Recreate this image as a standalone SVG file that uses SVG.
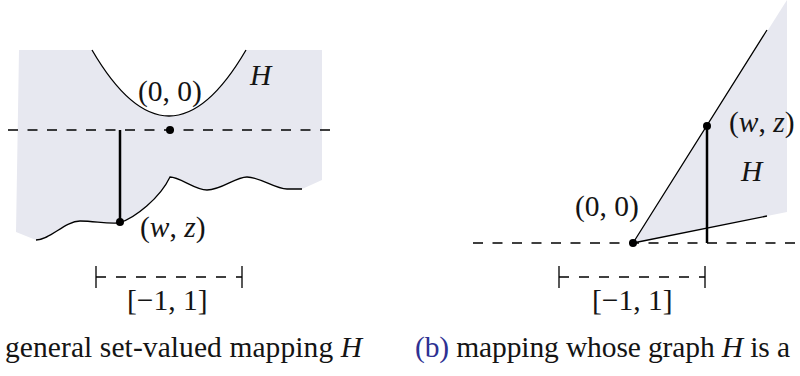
<svg xmlns="http://www.w3.org/2000/svg" width="800" height="376" viewBox="0 0 800 376" font-family="'Liberation Serif', 'DejaVu Serif', serif">
<style>
text { font-family: 'Liberation Serif', 'DejaVu Serif', serif; font-size: 29.5px; fill: #141414; }
.it { font-style: italic; }
.shade { fill: #e7e8f0; stroke: none; }
.curve { fill: none; stroke: #000; stroke-width: 1.3; }
.thick { fill: none; stroke: #000; stroke-width: 2.5; }
.dash { fill: none; stroke: #000; stroke-width: 1.3; stroke-dasharray: 10 9.5; }
.tick { fill: none; stroke: #000; stroke-width: 1.3; }
.dot { fill: #000; }
.blue { fill: #2e3192; }
</style>

<g id="panel-a">
  <g id="region-H-a">
    <path class="shade" d="M19,50 L92,50 Q169,182 246,50 L322,50 L322,180 L302,189 L287,189 C275,189 260,177 247,177 C235,177 222,190 207,190 C195,190 180,177 170,177 C160,198 135,218 119,223 C105,224 95,221 80,221 C65,221 50,240 36,240 L16,232 Z"/>
    <path class="curve" d="M92,50 Q169,182 246,50"/>
    <path class="curve" d="M36,240 C50,240 65,221 80,221 C95,221 105,224 119,223 C135,218 160,198 170,177 C180,177 195,190 207,190 C222,190 235,177 247,177 C260,177 275,189 287,189 L302,189"/>
  </g>
  <g id="connectors-a">
    <path class="dash" d="M8,130 L331,130"/>
    <path class="thick" d="M120,130 L120,222"/>
    <path class="tick" d="M96,266 L96,288 M242,266 L242,288"/>
    <path class="dash" d="M96,277 L242,277" style="stroke-dasharray:10 10"/>
  </g>
  <g id="point-00-a">
    <circle class="dot" cx="170" cy="130" r="4"/>
    <text x="138" y="101">(0, 0)</text>
  </g>
  <g id="point-wz-a">
    <circle class="dot" cx="120" cy="222" r="4"/>
    <text x="140" y="237">(<tspan class="it">w</tspan>, <tspan class="it">z</tspan>)</text>
  </g>
  <g id="label-H-a"><text class="it" x="250" y="85">H</text></g>
  <g id="interval-a"><text x="127" y="310">[−1, 1]</text></g>
  <g id="caption-a"><text x="5" y="357" textLength="357" lengthAdjust="spacing">general set-valued mapping <tspan class="it">H</tspan></text></g>
</g>

<g id="panel-b">
  <g id="region-H-b">
    <path class="shade" d="M633,243 L787,0 L787,212 Z"/>
    <path class="curve" d="M633,243 L767,30 M633,243 L767,216"/>
  </g>
  <g id="connectors-b">
    <path class="dash" d="M473,243 L800,243"/>
    <path class="thick" d="M707,126 L707,243"/>
    <path class="tick" d="M559,266 L559,288 M705,266 L705,288"/>
    <path class="dash" d="M559,277 L705,277" style="stroke-dasharray:10 10"/>
  </g>
  <g id="point-00-b">
    <circle class="dot" cx="633" cy="243" r="4"/>
    <text x="575" y="216">(0, 0)</text>
  </g>
  <g id="point-wz-b">
    <circle class="dot" cx="707" cy="126" r="4"/>
    <text x="729" y="132">(<tspan class="it">w</tspan>, <tspan class="it">z</tspan>)</text>
  </g>
  <g id="label-H-b"><text class="it" x="741" y="181">H</text></g>
  <g id="interval-b"><text x="592" y="310">[−1, 1]</text></g>
  <g id="caption-b"><text x="415" y="357" textLength="375" lengthAdjust="spacing"><tspan class="blue">(b)</tspan> mapping whose graph <tspan class="it">H</tspan> is a</text></g>
</g>
</svg>
